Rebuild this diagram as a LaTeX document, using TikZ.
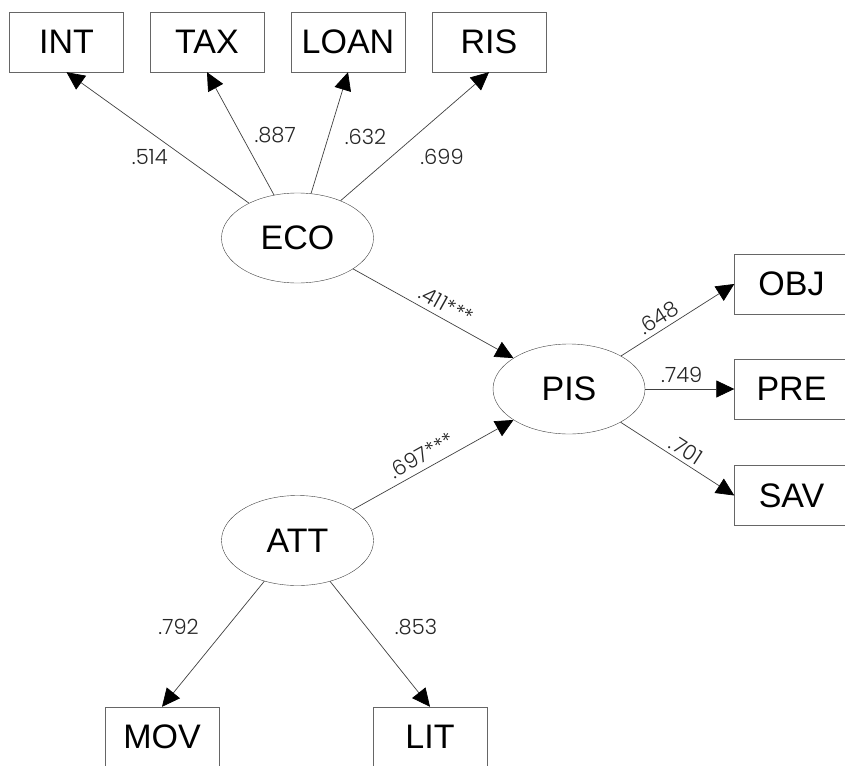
\documentclass[tikz,border=0pt]{standalone}
\usepackage{fontspec}
\setmainfont{Liberation Sans}
\newfontfamily\coeffont{Poppins Light}
\usetikzlibrary{shapes.geometric,arrows.meta,positioning}

\tikzset{
  latent/.style={draw=black!75,ellipse,minimum width=152pt,minimum height=90pt,inner sep=0pt,font=\fontsize{34}{37}\selectfont},
  indicator/.style={draw=black!60,rectangle,minimum width=114pt,minimum height=60pt,inner sep=0pt,font=\fontsize{34}{37}\selectfont},
  link/.style={draw=black!75,line width=0.7pt,-{Triangle[length=18pt,width=17pt,color=black]}},
  coef/.style={font=\coeffont\fontsize{21}{23}\selectfont,text=black!85,inner sep=1pt}
}

\begin{document}
\begin{tikzpicture}[x=1pt,y=-1pt]
\useasboundingbox (0,0) rectangle (845,765);

\node[indicator] (int) at (66.5,42) {INT};
\node[indicator] (tax) at (207,42) {TAX};
\node[indicator] (loan) at (348,42) {LOAN};
\node[indicator] (ris) at (489,42) {RIS};

\node[latent] (eco) at (297.5,238) {ECO};
\node[latent] (pis) at (569,389) {PIS};
\node[latent] (att) at (297.5,540.5) {ATT};

\node[indicator] (obj) at (791.5,284) {OBJ};
\node[indicator] (pre) at (791.5,389) {PRE};
\node[indicator] (sav) at (791.5,495.5) {SAV};

\node[indicator] (mov) at (162,737) {MOV};
\node[indicator] (lit) at (430,737) {LIT};

\draw[link] (eco) -- node[coef,pos=0.35,left=16pt] {.514} (int.south);
\draw[link] (eco) -- node[coef,pos=0.49,right=12pt] {.887} (tax.south);
\draw[link] (eco) -- node[coef,pos=0.47,right=15pt] {.632} (loan.south);
\draw[link] (eco) -- node[coef,pos=0.34,right=28pt] {.699} (ris.south);

\draw[link] (eco) -- node[coef,pos=0.54,sloped,above=5pt] {.411***} (pis);
\draw[link] (att) -- node[coef,pos=0.47,sloped,above=5pt] {.697***} (pis);

\draw[link] (pis) -- node[coef,pos=0.39,sloped,above=3pt] {.648} (obj.west);
\draw[link] (pis) -- node[coef,pos=0.41,above=5pt] {.749} (pre);
\draw[link] (pis) -- node[coef,pos=0.52,sloped,above=3pt] {.701} (sav.west);

\draw[link] (att) -- node[coef,pos=0.365,left=27pt] {.792} (mov.north);
\draw[link] (att) -- node[coef,pos=0.365,right=27pt] {.853} (lit.north);
\end{tikzpicture}
\end{document}
